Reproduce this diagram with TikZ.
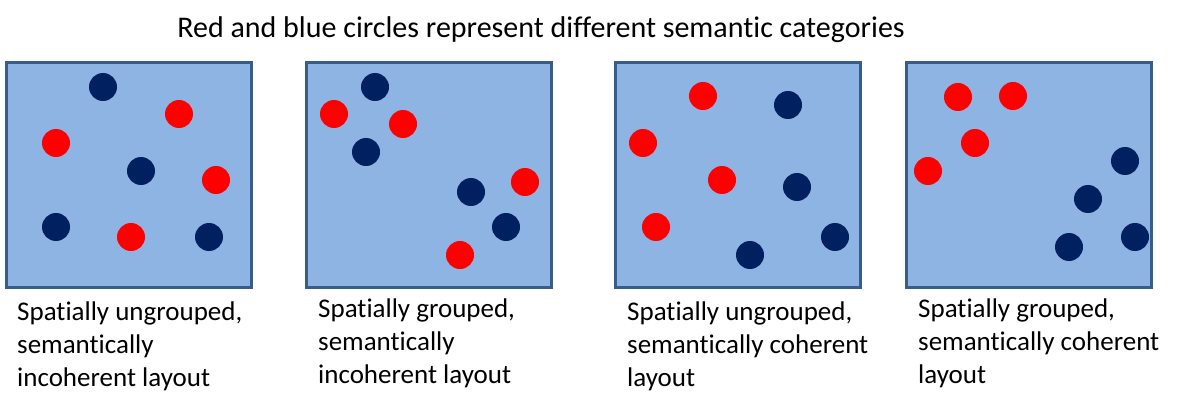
\documentclass[tikz,border=0pt]{standalone}
\usepackage{fontspec}
\setmainfont{Carlito}[Ligatures=NoCommon]
\usetikzlibrary{positioning}
\definecolor{panelfill}{RGB}{142,180,227}
\definecolor{panelline}{RGB}{56,93,138}
\definecolor{catblue}{RGB}{0,32,96}
\definecolor{catred}{RGB}{255,0,0}

\begin{document}
\begin{tikzpicture}[x=1pt,y=-1pt,
    panel/.style={fill=panelfill, draw=panelline, line width=3pt},
    caption/.style={anchor=north west, align=left, inner sep=0pt, font=\fontsize{27}{33}\selectfont}]
    \useasboundingbox (0,0) rectangle (1179,401);
    \node[anchor=base, inner sep=0pt, font=\fontsize{30}{36}\selectfont] (title) at (541,38) {Red and blue circles represent different semantic categories};
    % the four panels
    \foreach \x/\n in {6/A,306/B,615/C,906/D} {\draw[panel] (\x,63) rectangle ++(245,224); \coordinate (\n) at (\x,63);}
    % panel A: spatially ungrouped, incoherent
    \foreach \p in {(179,114),(56,143),(216,180),(131,237)} {\fill[catred] \p circle (14);}
    \foreach \p in {(103,87),(141,171),(56,227),(209,237)} {\fill[catblue] \p circle (14);}
    % panel B: spatially grouped, incoherent
    \foreach \p in {(334,114),(403,124),(525,182),(460,255)} {\fill[catred] \p circle (14);}
    \foreach \p in {(375,87),(366,152),(471,192),(506,227)} {\fill[catblue] \p circle (14);}
    % panel C: spatially ungrouped, coherent
    \foreach \p in {(703,96),(643,143),(722,180),(656,227)} {\fill[catred] \p circle (14);}
    \foreach \p in {(788,105),(797,187),(835,237),(750,255)} {\fill[catblue] \p circle (14);}
    % panel D: spatially grouped, coherent
    \foreach \p in {(958,97),(1013,96),(975,143),(928,171)} {\fill[catred] \p circle (14);}
    \foreach \p in {(1125,161),(1088,199),(1069,247),(1135,237)} {\fill[catblue] \p circle (14);}
    % captions
    \node[caption] (capA) at (17,302) {Spatially ungrouped,\\semantically\\incoherent layout};
    \node[caption] (capB) at (318,299) {Spatially grouped,\\semantically\\incoherent layout};
    \node[caption] (capC) at (627,302) {Spatially ungrouped,\\semantically coherent\\layout};
    \node[caption] (capD) at (918,299) {Spatially grouped,\\semantically coherent\\layout};
\end{tikzpicture}
\end{document}
